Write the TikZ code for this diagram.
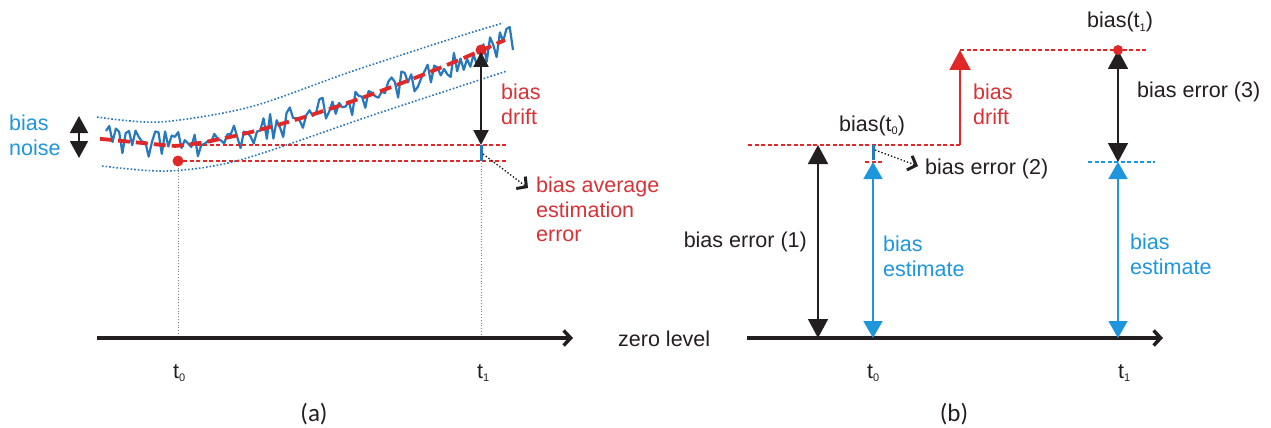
\documentclass[tikz,border=0pt]{standalone}
\usepackage{fontspec}
\setmainfont{Liberation Sans}
\newfontfamily\calib{Carlito}
\usetikzlibrary{arrows.meta}
\definecolor{myred}{RGB}{225,40,40}
\definecolor{textred}{RGB}{215,50,55}
\definecolor{sigblue}{RGB}{40,120,190}
\definecolor{lblue}{RGB}{30,150,222}
\definecolor{txt}{RGB}{35,31,32}
\newcommand{\sbs}[1]{\raisebox{-3.5pt}{\fontsize{11}{11}\selectfont #1}}
\begin{document}
\begin{tikzpicture}[x=1pt,y=-1pt,
  declare function={trend(\x)=139+7*min(\x-102,71)/71-95*pow(max(\x-173,0.01)/307,1.4);},
  lbl/.style={inner sep=0pt, font=\fontsize{21.5}{24.5}\selectfont, text=txt, align=left},
  redlbl/.style={lbl, text=textred},
  bluelbl/.style={lbl, text=lblue},
  tlbl/.style={lbl, anchor=base west},
  captxt/.style={inner sep=0pt, font=\calib\fontsize{25}{27}\selectfont, text=txt, anchor=base},
  axisline/.style={line width=3.5pt, txt, -{Straight Barb[length=7pt,width=15pt]}},
  reddash/.style={myred, line width=1.4pt, dash pattern=on 4pt off 2.5pt},
  bluedash/.style={lblue, line width=1.4pt, dash pattern=on 4pt off 2.5pt},
  guide/.style={gray, line width=0.8pt, dotted},
  env/.style={sigblue, line width=1.6pt, dotted},
  dblA/.style={txt, line width=2.2pt, {Triangle[length=15pt,width=15pt]}-{Triangle[length=15pt,width=15pt]}},
  dblN/.style={txt, line width=2pt, {Triangle[length=17pt,width=18pt]}-{Triangle[length=17pt,width=18pt]}},
  dblB/.style={txt, line width=1.5pt, {Triangle[length=19pt,width=20pt]}-{Triangle[length=19pt,width=20pt]}},
  dblBlue/.style={lblue, line width=1.8pt, {Triangle[length=17pt,width=19pt]}-{Triangle[length=17pt,width=19pt]}},
  uparrow/.style={myred, line width=2pt, -{Triangle[length=20pt,width=21pt]}},
  ptr/.style={txt, line width=1.4pt, dotted, -{Straight Barb[length=7pt,width=15pt,line width=3pt]}},
  seg/.style={sigblue, line width=3pt},
  dot/.style={fill=myred}
]
\useasboundingbox (0,0) rectangle (1271,428);

% ================= panel (a) =================
\coordinate (a0) at (97,338);
\coordinate (a1) at (573,338);
\coordinate (g0t) at (178,165);
\coordinate (g0b) at (178,338);
\coordinate (g1t) at (481,163);
\coordinate (g1b) at (481,338);
\draw[guide] (g0t) -- (g0b);
\draw[guide] (g1t) -- (g1b);
\draw[axisline] (a0) -- (a1);

% envelope
\draw[env] plot[smooth] coordinates {(97,117) (160,122) (250,107) (350,72) (457,37) (503,23)};
\draw[env] plot[smooth] coordinates {(102,166) (167,171) (240,160) (373,115) (507,71)};

% noisy signal
\pgfmathsetseed{17}
\draw[sigblue, line width=2.2pt, line join=round]
  plot[domain=106:513, samples=125] (\x, {trend(\x)+14*rand});

% reference lines
\coordinate (h1a) at (190,145); \coordinate (h1b) at (507,145);
\coordinate (h2a) at (183,161); \coordinate (h2b) at (507,161);
\draw[reddash] (h1a) -- (h1b);
\draw[reddash] (h2a) -- (h2b);

% trend
\draw[myred, line width=3.8pt, dash pattern=on 12pt off 6pt]
  plot[domain=100:505, samples=60, smooth] (\x,{trend(\x)});

% dots
\coordinate (d0) at (178,161);
\coordinate (d1) at (481,50);
\fill[dot] (d0) circle (5.5pt);
\fill[dot] (d1) circle (5.5pt);

% drift arrow and average error segment
\coordinate (drT) at (481,52);
\coordinate (drB) at (481,145);
\coordinate (sgB) at (481,161);
\draw[dblA] (drT) -- (drB);
\draw[seg] (drB) -- (sgB);

% noise arrow
\coordinate (nT) at (79,116);
\coordinate (nB) at (79,158);
\draw[dblN] (nT) -- (nB);

% pointer
\coordinate (pa0) at (483,154);
\coordinate (pa1) at (528,188);
\draw[ptr] (pa0) -- (pa1);

% labels (a)
\node[bluelbl, anchor=north west] (noise) at (9,115) {bias\\noise};
\node[redlbl, anchor=north west] (drifta) at (501,84) {bias\\drift};
\node[redlbl, anchor=north west] (avg) at (536,177) {bias average\\estimation\\error};
\node[tlbl] (t0a) at (173,378) {t\sbs{0}};
\node[tlbl] (t1a) at (477,378) {t\sbs{1}};
\node[captxt] (capa) at (314,421) {(a)};

% ================= panel (b) =================
\coordinate (b0) at (747,338);
\coordinate (b1) at (1163,338);
\draw[axisline] (b0) -- (b1);

\coordinate (r1a) at (748,145);
\coordinate (r1b) at (960,145);
\coordinate (r2a) at (960,50);
\coordinate (r2b) at (1148,50);
\draw[reddash] (r1a) -- (r1b);
\draw[reddash] (r2a) -- (r2b);
\draw[uparrow] (r1b) -- (r2a);

\coordinate (s0a) at (865,162);
\coordinate (s0b) at (883,162);
\draw[reddash] (s0a) -- (s0b);

\coordinate (e1T) at (818,145);
\coordinate (e1B) at (818,338);
\draw[dblB] (e1T) -- (e1B);

\coordinate (bs0T) at (873,162);
\coordinate (bs0B) at (873,338);
\draw[dblBlue] (bs0T) -- (bs0B);

\coordinate (sg0T) at (873,145);
\coordinate (sg0B) at (873,160);
\draw[seg] (sg0T) -- (sg0B);

\coordinate (bl1a) at (1088,162);
\coordinate (bl1b) at (1155,162);
\draw[bluedash] (bl1a) -- (bl1b);

\coordinate (e3T) at (1118,50);
\coordinate (e3B) at (1118,162);
\draw[dblB] (e3T) -- (e3B);

\coordinate (bs1B) at (1118,338);
\draw[dblBlue] (e3B) -- (bs1B);

\fill[dot] (e3T) circle (5pt);

\coordinate (pb0) at (875,150);
\coordinate (pb1) at (918,166);
\draw[ptr] (pb0) -- (pb1);

% labels (b)
\node[lbl, anchor=base] (bt0) at (872,131) {bias(t\sbs{0})};
\node[lbl, anchor=base] (bt1) at (1120,28) {bias(t\sbs{1})};
\node[redlbl, anchor=north west] (driftb) at (973,84) {bias\\drift};
\node[lbl, anchor=base east] (err1) at (807,247) {bias error (1)};
\node[lbl, anchor=base west] (err2) at (925,174) {bias error (2)};
\node[lbl, anchor=base west] (err3) at (1137,97) {bias error (3)};
\node[bluelbl, anchor=north west] (est0) at (883,236) {bias\\estimate};
\node[bluelbl, anchor=north west] (est1) at (1130,234) {bias\\estimate};
\node[lbl, anchor=base west] (zero) at (618,346) {zero level};
\node[tlbl] (t0b) at (867,378) {t\sbs{0}};
\node[tlbl] (t1b) at (1118,378) {t\sbs{1}};
\node[captxt] (capb) at (954,421) {(b)};
\end{tikzpicture}
\end{document}
